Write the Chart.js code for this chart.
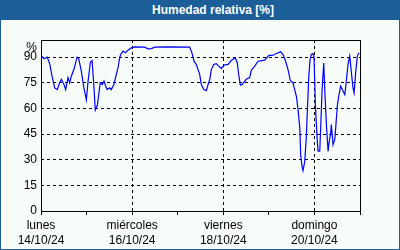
<!DOCTYPE html>
<html>
<head>
<meta charset="utf-8">
<script src="https://cdn.jsdelivr.net/npm/chart.js@4"></script>
<style>
  body { margin: 0; }
  #frame { position: relative; width: 400px; height: 250px; background: #1b5e98; overflow: hidden; }
  #title { position: absolute; left: 213px; top: 2px; transform: translateX(-50%); color: #fff;
           font: bold 12px "Liberation Sans", sans-serif; white-space: nowrap; line-height: 16px; }
  #inner { position: absolute; left: 1px; top: 20px; width: 398px; height: 229px; background: #f8fcf8; }
</style>
</head>
<body>
<div id="frame">
  <div id="title">Humedad relativa [%]</div>
  <div id="inner"><canvas id="humChart" width="398" height="229"></canvas></div>
</div>
<script>
/* --------------- Data: hours since lunes 14/10/24 00:00 --------------------- */
const hours = [0, 1.6, 3.3, 4.6, 5.8, 7.2, 8.6, 9.8, 10.7, 12.1, 13.0, 14.2, 15.1, 16.0, 17.4, 19.0, 19.9,
    21.2, 22.6, 23.9, 24.8, 26.0, 26.9, 27.8, 28.6, 29.7, 30.4, 31.2, 32.3, 33.2, 34.1, 34.9, 36.2, 37.0,
    38.4, 39.7, 40.6, 41.5, 42.0, 43.2, 44.4, 45.8, 47.6, 49.4, 54.6, 56.4, 58.1, 59.9, 66.9, 78.3, 79.5,
    80.6, 81.8, 82.7, 83.6, 84.4, 85.8, 87.1, 88.0, 88.9, 89.7, 91.0, 92.3, 93.6, 95.0, 96.4, 98.5, 100.2,
    102.3, 103.4, 104.1, 105.0, 106.0, 108.1, 109.9, 110.8, 112.6, 114.3, 117.8, 119.9, 122.2, 124.8, 126.2,
    127.5, 128.7, 130.1, 131.3, 132.7, 133.6, 134.5, 135.4, 136.3, 136.8, 137.5, 138.0, 138.9, 139.7, 140.3,
    141.0, 141.7, 142.4, 143.3, 143.8, 144.5, 145.4, 145.9, 146.8, 147.3, 148.0, 148.9, 149.4, 150.3, 151.2,
    151.7, 152.6, 152.9, 153.8, 154.7, 155.2, 156.1, 156.8, 157.8, 159.1, 160.0, 160.8, 161.7, 162.6, 163.4,
    164.3, 164.9, 165.7, 166.6, 167.5];
const humidity = [91, 89, 90, 86, 79, 72, 71, 75, 77, 74, 71, 78, 75, 79, 83, 90, 89,
    82, 72, 65, 76, 87, 88, 74, 59, 62, 68, 75, 74, 76, 73, 71, 72, 71,
    74, 80, 84, 90, 91.5, 93.5, 92.5, 94, 95.4, 96, 95.8, 94.8, 95, 95.8, 96, 95.8, 92.5,
    87.6, 85.7, 82.7, 79.8, 74, 71, 70.4, 74, 77, 82.7, 85.7, 86.2, 84.7, 83.3, 85.3, 85.7, 88,
    89.6, 86.6, 79.8, 73.6, 74, 77, 78, 82.4, 84.7, 87.6, 88.2, 90.9, 91.1, 92.5, 93.1,
    91.5, 88, 82.7, 76.3, 75, 71, 67, 59, 48.6, 32, 26, 23.6, 29, 42.7, 59.3,
    78, 88.6, 91.5, 92, 89.6, 62, 42.7, 35, 35, 48.6, 70, 86.6, 72, 50.5, 35,
    40, 45.7, 50.5, 38.8, 41.7, 48.6, 62, 67, 73, 70, 68, 76, 85.7, 90.6, 81.8,
    72, 69, 80.8, 90.6, 92.5];

/* --------------- Axis labels --------------------- */
const dayTicks = [0, 24, 48, 72, 96, 120, 144, 168];
const dayNames = { 0: "lunes", 48: "miércoles", 96: "viernes", 144: "domingo" };
const dayDates = { 0: "14/10/24", 48: "16/10/24", 96: "18/10/24", 144: "20/10/24" };
const yTicks = [0, 15, 30, 45, 60, 75, 90, 100];

const axisFont = { family: "'Liberation Sans', sans-serif", size: 12, lineHeight: 1.25 };

/* --------------- Frame round the plot --------------------- */
const frameBox = {
    id: "frameBox",
    afterDraw(chart) {
        const { ctx, chartArea: a } = chart;
        ctx.save();
        ctx.strokeStyle = "#000";
        ctx.lineWidth = 1;
        ctx.strokeRect(Math.round(a.left) + 0.5, Math.round(a.top) + 0.5,
            Math.round(a.right - a.left), Math.round(a.bottom - a.top));
        ctx.restore();
    }
};

/* --------------- Chart --------------------- */
new Chart(document.getElementById("humChart"), {
    type: "line",
    data: {
        datasets: [{
            data: hours.map((h, i) => ({ x: h, y: humidity[i] })),
            borderColor: "#0000ff",
            borderWidth: 1.2,
            pointRadius: 0,
            tension: 0,
        }],
    },
    plugins: [frameBox],
    options: {
        responsive: false,
        animation: false,
        layout: { padding: { left: 0, top: 20, right: 39, bottom: 0 } },
        plugins: { legend: { display: false }, tooltip: { enabled: false } },
        scales: {
            x: {
                type: "linear",
                min: 0,
                max: 168,
                afterBuildTicks: (scale) => { scale.ticks = dayTicks.map(v => ({ value: v })); },
                afterFit: (scale) => { scale.height = 38; },
                border: { display: false, dash: [3, 3] },
                grid: {
                    color: (c) => [48, 96, 144].includes(c.tick && c.tick.value) ? "#000" : "rgba(0,0,0,0)",
                    tickColor: "#000",
                    tickBorderDash: [],
                    tickLength: 4,
                    lineWidth: 1,
                },
                ticks: {
                    autoSkip: false,
                    maxRotation: 0,
                    color: "#000",
                    font: axisFont,
                    padding: 3,
                    callback: (v) => dayNames[v] ? [dayNames[v], dayDates[v]] : "",
                },
            },
            y: {
                min: 0,
                max: 100,
                afterBuildTicks: (scale) => { scale.ticks = yTicks.map(v => ({ value: v })); },
                afterFit: (scale) => { scale.width = 40; },
                border: { display: false, dash: [3, 3] },
                grid: {
                    color: (c) => (c.tick && c.tick.value > 0 && c.tick.value < 100) ? "#000" : "rgba(0,0,0,0)",
                    drawTicks: false,
                    lineWidth: 1,
                },
                ticks: {
                    autoSkip: false,
                    color: "#000",
                    font: axisFont,
                    padding: 4,
                    callback: (v) => v === 100 ? ["", "%"] : v,
                },
            },
        },
    },
});
</script>
</body>
</html>
